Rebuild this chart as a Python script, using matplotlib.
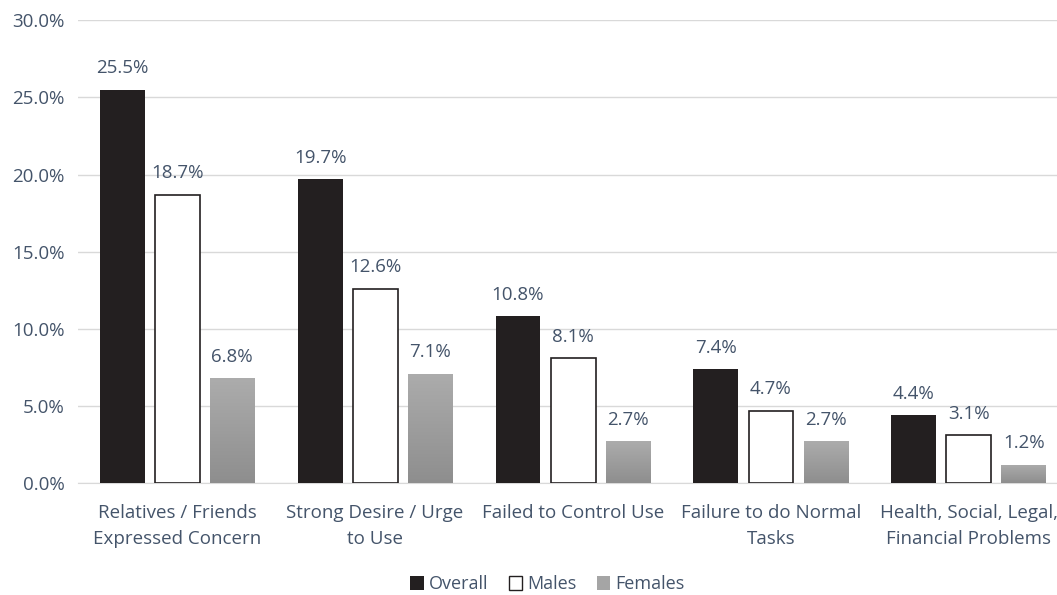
import matplotlib.pyplot as plt
import numpy as np
from matplotlib.patches import Patch
from matplotlib.colors import LinearSegmentedColormap

categories = ['Relatives / Friends\nExpressed Concern', 'Strong Desire / Urge\nto Use',
              'Failed to Control Use', 'Failure to do Normal\nTasks',
              'Health, Social, Legal,\nFinancial Problems']
overall = [25.5, 19.7, 10.8, 7.4, 4.4]
males = [18.7, 12.6, 8.1, 4.7, 3.1]
females = [6.8, 7.1, 2.7, 2.7, 1.2]

txt = '#44546A'
plt.rcParams['font.family'] = ['Open Sans', 'DejaVu Sans']

fig = plt.figure(figsize=(10.57, 5.95), dpi=100)
ax = fig.add_axes([0.074, 0.188, 0.926, 0.778])

x = np.arange(len(categories))
w = 0.227
off = 0.278

b1 = ax.bar(x - off, overall, w, color='#231F20', zorder=3)
b2 = ax.bar(x, males, w, color='white', edgecolor='#231F20', linewidth=1.2, zorder=3)
b3 = ax.bar(x + off, females, w, color='#9E9E9E', zorder=3)

# gradient fill for females bars
grad = np.linspace(0, 1, 256).reshape(-1, 1)
cmap = LinearSegmentedColormap.from_list('g', ['#8E8E8E', '#ACACAC'])
for bar in b3:
    bx, by = bar.get_x(), bar.get_y()
    bw, bh = bar.get_width(), bar.get_height()
    im = ax.imshow(grad, extent=[bx, bx + bw, by, by + bh], origin='lower',
                   cmap=cmap, aspect='auto', zorder=4)
    im.set_clip_path(bar)

for bars, vals in [(b1, overall), (b2, males), (b3, females)]:
    for bar, v in zip(bars, vals):
        ax.text(bar.get_x() + bar.get_width() / 2, v + 0.8, f'{v:.1f}%',
                ha='center', va='bottom', fontsize=13.5, color=txt, zorder=5)

ax.set_xlim(-0.5, 4.445)
ax.set_ylim(0, 30)
ax.set_yticks(np.arange(0, 31, 5))
ax.set_yticklabels([f'{v:.1f}%' for v in np.arange(0, 31, 5)])
ax.set_xticks(x)
ax.set_xticklabels(categories, linespacing=1.55)
ax.tick_params(axis='both', length=0, labelsize=13.5, colors=txt)
ax.tick_params(axis='x', pad=15)
ax.tick_params(axis='y', pad=10)
ax.grid(axis='y', color='#D9D9D9', linewidth=1, zorder=0)
for s in ['top', 'right', 'left']:
    ax.spines[s].set_visible(False)
ax.spines['bottom'].set_color('#D9D9D9')

handles = [Patch(facecolor='#231F20', label='Overall'),
           Patch(facecolor='white', edgecolor='#231F20', label='Males'),
           Patch(facecolor='#A5A5A5', label='Females')]
leg = fig.legend(handles=handles, loc='center', bbox_to_anchor=(0.518, 0.018), ncol=3,
                 frameon=False, fontsize=13, handlelength=0.75, handleheight=0.75,
                 handletextpad=0.3, columnspacing=1.1)
for t in leg.get_texts():
    t.set_color(txt)

fig.savefig('out.png', dpi=100)
